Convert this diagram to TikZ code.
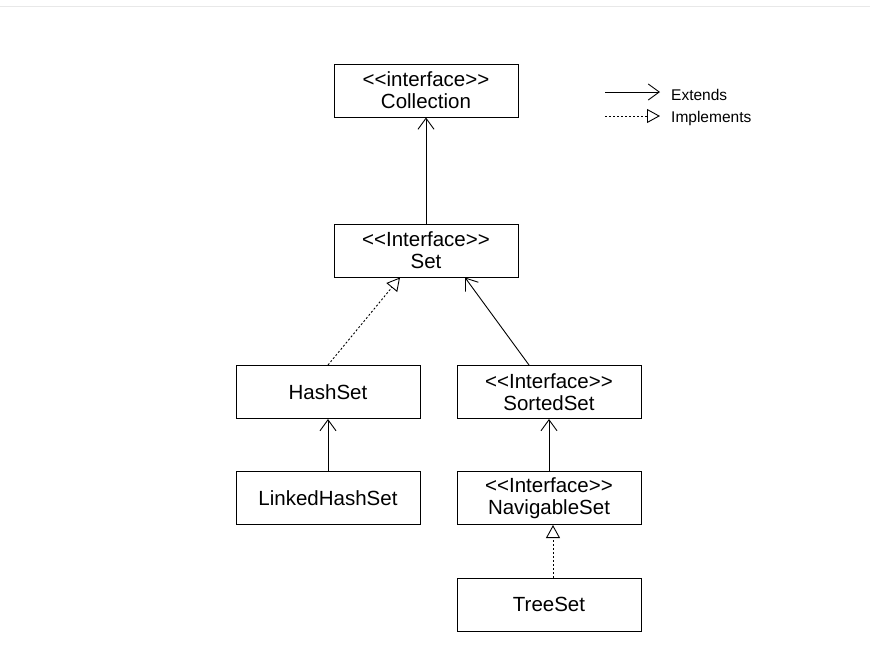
\documentclass[tikz,border=0pt]{standalone}
\usepackage{fontspec}
\setmainfont{Liberation Sans}
\usepackage{tikz}
\usetikzlibrary{positioning,arrows.meta}

\begin{document}
\begin{tikzpicture}[x=1pt,y=-1pt,
    box/.style={draw,line width=1pt,minimum width=184pt,minimum height=53pt,inner sep=0pt,align=center,font=\fontsize{20.5}{22}\selectfont},
    extends/.style={line width=0.9pt,-{Straight Barb[length=11pt,width=16pt,line width=0.9pt]}},
    implements/.style={line width=0.9pt,dash pattern=on 2pt off 2pt,-{Triangle[open,length=13pt,width=14pt,line width=0.9pt]}},
    legendtext/.style={anchor=west,inner sep=0pt,font=\fontsize{15.5}{18}\selectfont}]
  \useasboundingbox (0,0) rectangle (870,657);
  \draw[black!9,line width=1pt] (0,6) -- (870,6);
  % boxes
  \node[box](collection) at (426,90.5){<{}<interface>{}>\\Collection};
  \node[box](set) at (426,250.5){<{}<Interface>{}>\\Set};
  \node[box](hashset) at (328,392){HashSet};
  \node[box](sortedset) at (549,392){<{}<Interface>{}>\\SortedSet};
  \node[box](linkedhashset) at (328,498){LinkedHashSet};
  \node[box](navigableset) at (549,498){<{}<Interface>{}>\\NavigableSet};
  \node[box](treeset) at (549,604.5){TreeSet};
  % connectors
  \draw[extends] (set.north) -- (collection.south);
  \draw[implements] (hashset.north) -- ([xshift=-26pt]set.south);
  \draw[extends] ([xshift=-20pt]sortedset.north) -- ([xshift=39pt]set.south);
  \draw[extends] (linkedhashset.north) -- (hashset.south);
  \draw[extends] (navigableset.north) -- (sortedset.south);
  \draw[implements] ([xshift=4pt]treeset.north) -- ([xshift=4pt]navigableset.south);
  % legend
  \coordinate (e1) at (605,92);
  \coordinate (e2) at (660,92);
  \coordinate (i1) at (605,116);
  \coordinate (i2) at (660,116);
  \draw[extends] (e1) -- (e2);
  \draw[implements] (i1) -- (i2);
  \node[legendtext](extlabel) at (671,95){Extends};
  \node[legendtext](implabel) at (671,118){Implements};
\end{tikzpicture}
\end{document}
